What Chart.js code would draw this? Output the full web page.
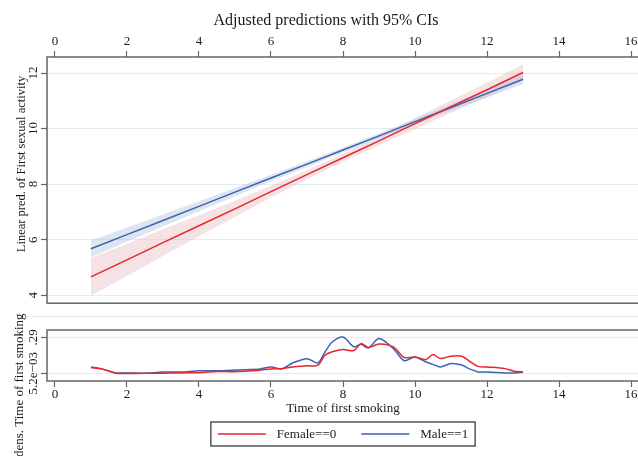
<!DOCTYPE html>
<html>
<head>
<meta charset="utf-8">
<script src="https://cdn.jsdelivr.net/npm/chart.js@4"></script>
<style>
  html, body { margin: 0; padding: 0; background: #fff; overflow: hidden; }
  body { width: 638px; height: 456px; position: relative; }
  #predChart { position: absolute; left: 0; top: 0; }
  #densChart { position: absolute; left: 0; top: 312px; }
</style>
</head>
<body>
<canvas id="predChart" width="652" height="312"></canvas>
<canvas id="densChart" width="652" height="144"></canvas>
<script>
// tick values shared by both panels
const xTicks = [0, 2, 4, 6, 8, 10, 12, 14, 16];
const predTicks = [4, 6, 8, 10, 12];
const densTicks = [0.0052, 0.29];
const densTickLabels = ['5.2e\u221203', '.29'];
const seriesLabels = ['Female==0', 'Male==1'];

// adjusted predictions (top panel)
const smokeTime  = [1, 2, 3, 4, 5, 6, 7, 8, 9, 10, 11, 12, 13];
const femalePred = [4.66, 5.27, 5.89, 6.50, 7.11, 7.73, 8.34, 8.95, 9.56, 10.18, 10.79, 11.40, 12.02];
const femaleLow  = [3.98, 4.69, 5.41, 6.12, 6.82, 7.52, 8.18, 8.81, 9.40, 9.98, 10.57, 11.14, 11.72];
const femaleHigh = [5.34, 5.85, 6.37, 6.88, 7.40, 7.94, 8.50, 9.09, 9.72, 10.38, 11.01, 11.66, 12.32];
const malePred   = [5.67, 6.18, 6.69, 7.20, 7.71, 8.22, 8.72, 9.23, 9.74, 10.25, 10.76, 11.27, 11.78];
const maleLow    = [5.37, 5.92, 6.47, 7.02, 7.56, 8.10, 8.62, 9.14, 9.65, 10.15, 10.64, 11.12, 11.60];
const maleHigh   = [5.97, 6.44, 6.91, 7.38, 7.86, 8.34, 8.82, 9.32, 9.83, 10.35, 10.88, 11.42, 11.96];

// kernel density of time of first smoking (bottom panel)
const densX      = [1, 1.3, 1.7, 2, 2.5, 3, 3.5, 4, 4.5, 4.9, 5.3, 5.7, 6, 6.3, 6.6, 7, 7.3, 7.5, 7.7, 8,
                    8.3, 8.5, 8.7, 9, 9.4, 9.7, 10, 10.3, 10.5, 10.7, 11, 11.3, 11.5, 11.75, 12, 12.5, 12.75, 13];
const densFemale = [.05, .04, .005, .004, .005, .006, .008, .01, .02, .018, .022, .03, .04, .042, .055, .064, .069, .148, .175, .193,
                    .185, .24, .21, .237, .214, .13, .134, .113, .153, .122, .14, .14, .103, .06, .055, .042, .021, .016];
const densMale   = [.055, .04, .008, .008, .005, .015, .015, .025, .025, .03, .034, .04, .055, .04, .087, .121, .087, .174, .253, .292,
                    .215, .235, .205, .28, .2, .105, .134, .094, .076, .055, .082, .07, .042, .016, .016, .008, .008, .013];

const serif = "'Liberation Serif', 'Times New Roman', serif";
const red = '#e8262b';
const blue = '#3b62b5';
const axisGray = '#666666';
const gridTint = '#e3edf0';
const textColor = '#1a1a1a';

function pts(xs, ys) {
  return xs.map((x, i) => ({ x: x, y: ys[i] }));
}

// empty axis on the right, only there to keep the plot edge at 639px
const spacer = {
  position: 'right',
  display: true,
  afterFit: s => { s.width = 13; },
  grid: { display: false },
  ticks: { display: false },
  border: { display: false }
};

// outline round the plot region
const frame = {
  id: 'frame',
  afterDraw(chart) {
    const a = chart.chartArea, ctx = chart.ctx;
    ctx.save();
    ctx.strokeStyle = axisGray;
    ctx.lineWidth = 1.5;
    ctx.strokeRect(a.left, a.top, a.right - a.left, a.bottom - a.top);
    ctx.restore();
  }
};

// rotated y title placed where stata put it
const sideTitle = {
  id: 'sideTitle',
  afterDraw(chart, args, opts) {
    const ctx = chart.ctx;
    ctx.save();
    ctx.translate(opts.x, opts.y);
    ctx.rotate(-Math.PI / 2);
    ctx.font = opts.font;
    ctx.fillStyle = textColor;
    ctx.textAlign = opts.align;
    ctx.textBaseline = 'alphabetic';
    ctx.fillText(opts.text, 0, 0);
    ctx.restore();
  }
};

// legend in a box, centred under the plot
const boxLegend = {
  id: 'boxLegend',
  afterDraw(chart, args, opts) {
    const ctx = chart.ctx, a = chart.chartArea;
    ctx.save();
    ctx.font = opts.font;
    const items = chart.data.datasets.map(d => ({ label: d.label, color: d.borderColor, w: ctx.measureText(d.label).width }));
    const lineLen = 48, gap = 11, itemGap = 25, pad = 7;
    let total = pad * 2 + itemGap * (items.length - 1);
    items.forEach(it => { total += lineLen + gap + it.w; });
    let x = (a.left + a.right) / 2 - total / 2;
    const mid = opts.top + opts.height / 2;
    ctx.strokeStyle = '#555';
    ctx.lineWidth = 1.5;
    ctx.strokeRect(x, opts.top, total, opts.height);
    x += pad;
    items.forEach(it => {
      ctx.strokeStyle = it.color;
      ctx.lineWidth = 1.5;
      ctx.beginPath();
      ctx.moveTo(x, mid);
      ctx.lineTo(x + lineLen, mid);
      ctx.stroke();
      x += lineLen + gap;
      ctx.fillStyle = textColor;
      ctx.textBaseline = 'middle';
      ctx.fillText(it.label, x, mid + 1);
      x += it.w + itemGap;
    });
    ctx.restore();
  }
};

// faint rule between the two panels
const separator = {
  id: 'separator',
  beforeDraw(chart, args, opts) {
    const ctx = chart.ctx;
    ctx.save();
    ctx.strokeStyle = '#e8f0f2';
    ctx.lineWidth = 1.5;
    ctx.beginPath();
    ctx.moveTo(opts.x0, opts.y);
    ctx.lineTo(chart.width, opts.y);
    ctx.stroke();
    ctx.restore();
  }
};

new Chart(document.getElementById('predChart'), {
  type: 'line',
  data: {
    datasets: [
      { label: seriesLabels[0], data: pts(smokeTime, femalePred), borderColor: red, borderWidth: 1.5, pointRadius: 0, fill: false },
      { label: seriesLabels[1], data: pts(smokeTime, malePred), borderColor: blue, borderWidth: 1.5, pointRadius: 0, fill: false },
      { label: 'male upper', data: pts(smokeTime, maleHigh), borderWidth: 0, pointRadius: 0, backgroundColor: 'rgba(170,190,215,0.4)', fill: '+1' },
      { label: 'male lower', data: pts(smokeTime, maleLow), borderWidth: 0, pointRadius: 0, fill: false },
      { label: 'female upper', data: pts(smokeTime, femaleHigh), borderWidth: 0, pointRadius: 0, backgroundColor: 'rgba(225,180,186,0.38)', fill: '+1' },
      { label: 'female lower', data: pts(smokeTime, femaleLow), borderWidth: 0, pointRadius: 0, fill: false }
    ]
  },
  options: {
    responsive: false,
    animation: false,
    layout: { padding: 0 },
    plugins: {
      legend: { display: false },
      tooltip: { enabled: false },
      title: {
        display: true,
        text: 'Adjusted predictions with 95% CIs',
        color: textColor,
        font: { family: serif, size: 16, weight: 'normal' },
        padding: { top: 11, bottom: 0 }
      },
      sideTitle: { text: 'Linear pred. of First sexual activity', x: 24.5, y: 164, align: 'center', font: '12.5px ' + serif }
    },
    scales: {
      x: {
        type: 'linear',
        position: 'top',
        min: -0.22,
        max: 16.22,
        afterBuildTicks: s => { s.ticks = xTicks.map(v => ({ value: v })); },
        afterFit: s => { s.height = 26.8; },
        grid: { drawOnChartArea: false, tickColor: axisGray, tickLength: 6, tickWidth: 1.2 },
        border: { display: false },
        ticks: { color: textColor, font: { family: serif, size: 13 }, padding: 2, maxRotation: 0, autoSkip: false }
      },
      y: {
        min: 3.71,
        max: 12.58,
        afterBuildTicks: s => { s.ticks = predTicks.map(v => ({ value: v })); },
        afterFit: s => { s.width = 47; },
        grid: { color: gridTint, tickColor: axisGray, tickLength: 6, tickWidth: 1.2 },
        border: { display: false },
        ticks: { color: textColor, font: { family: serif, size: 13 }, minRotation: 90, maxRotation: 90, crossAlign: 'center', padding: 1 }
      },
      yRight: spacer
    }
  },
  plugins: [frame, sideTitle]
});

new Chart(document.getElementById('densChart'), {
  type: 'line',
  data: {
    datasets: [
      { label: seriesLabels[0], data: pts(densX, densFemale), borderColor: red, borderWidth: 1.5, pointRadius: 0, tension: 0.3, fill: false },
      { label: seriesLabels[1], data: pts(densX, densMale), borderColor: blue, borderWidth: 1.5, pointRadius: 0, tension: 0.3, fill: false }
    ]
  },
  options: {
    responsive: false,
    animation: false,
    layout: { padding: { top: 18, bottom: 31 } },
    plugins: {
      legend: { display: false },
      tooltip: { enabled: false },
      sideTitle: { text: 'kdens. Time of first smoking', x: 22.5, y: 1.5, align: 'right', font: '13px ' + serif },
      boxLegend: { top: 110, height: 24, font: '13px ' + serif },
      separator: { x0: 20, y: 4.5 }
    },
    scales: {
      x: {
        type: 'linear',
        position: 'bottom',
        min: -0.22,
        max: 16.22,
        afterBuildTicks: s => { s.ticks = xTicks.map(v => ({ value: v })); },
        afterFit: s => { s.height = 44; },
        grid: { drawOnChartArea: false, tickColor: axisGray, tickLength: 6, tickWidth: 1.2 },
        border: { display: false },
        ticks: { color: textColor, font: { family: serif, size: 13 }, padding: 0, maxRotation: 0, autoSkip: false },
        title: { display: true, text: 'Time of first smoking', color: textColor, font: { family: serif, size: 13 }, padding: { top: 0, bottom: 8.5 } }
      },
      y: {
        min: -0.056,
        max: 0.348,
        afterBuildTicks: s => { s.ticks = densTicks.map(v => ({ value: v })); },
        afterFit: s => { s.width = 47; },
        grid: { color: gridTint, tickColor: axisGray, tickLength: 6, tickWidth: 1.2 },
        border: { display: false },
        ticks: {
          color: textColor,
          font: { family: serif, size: 13 },
          minRotation: 90,
          maxRotation: 90,
          crossAlign: 'center',
          padding: -14,
          callback: (v, i) => densTickLabels[i]
        }
      },
      yRight: spacer
    }
  },
  plugins: [frame, sideTitle, boxLegend, separator]
});
</script>
</body>
</html>
